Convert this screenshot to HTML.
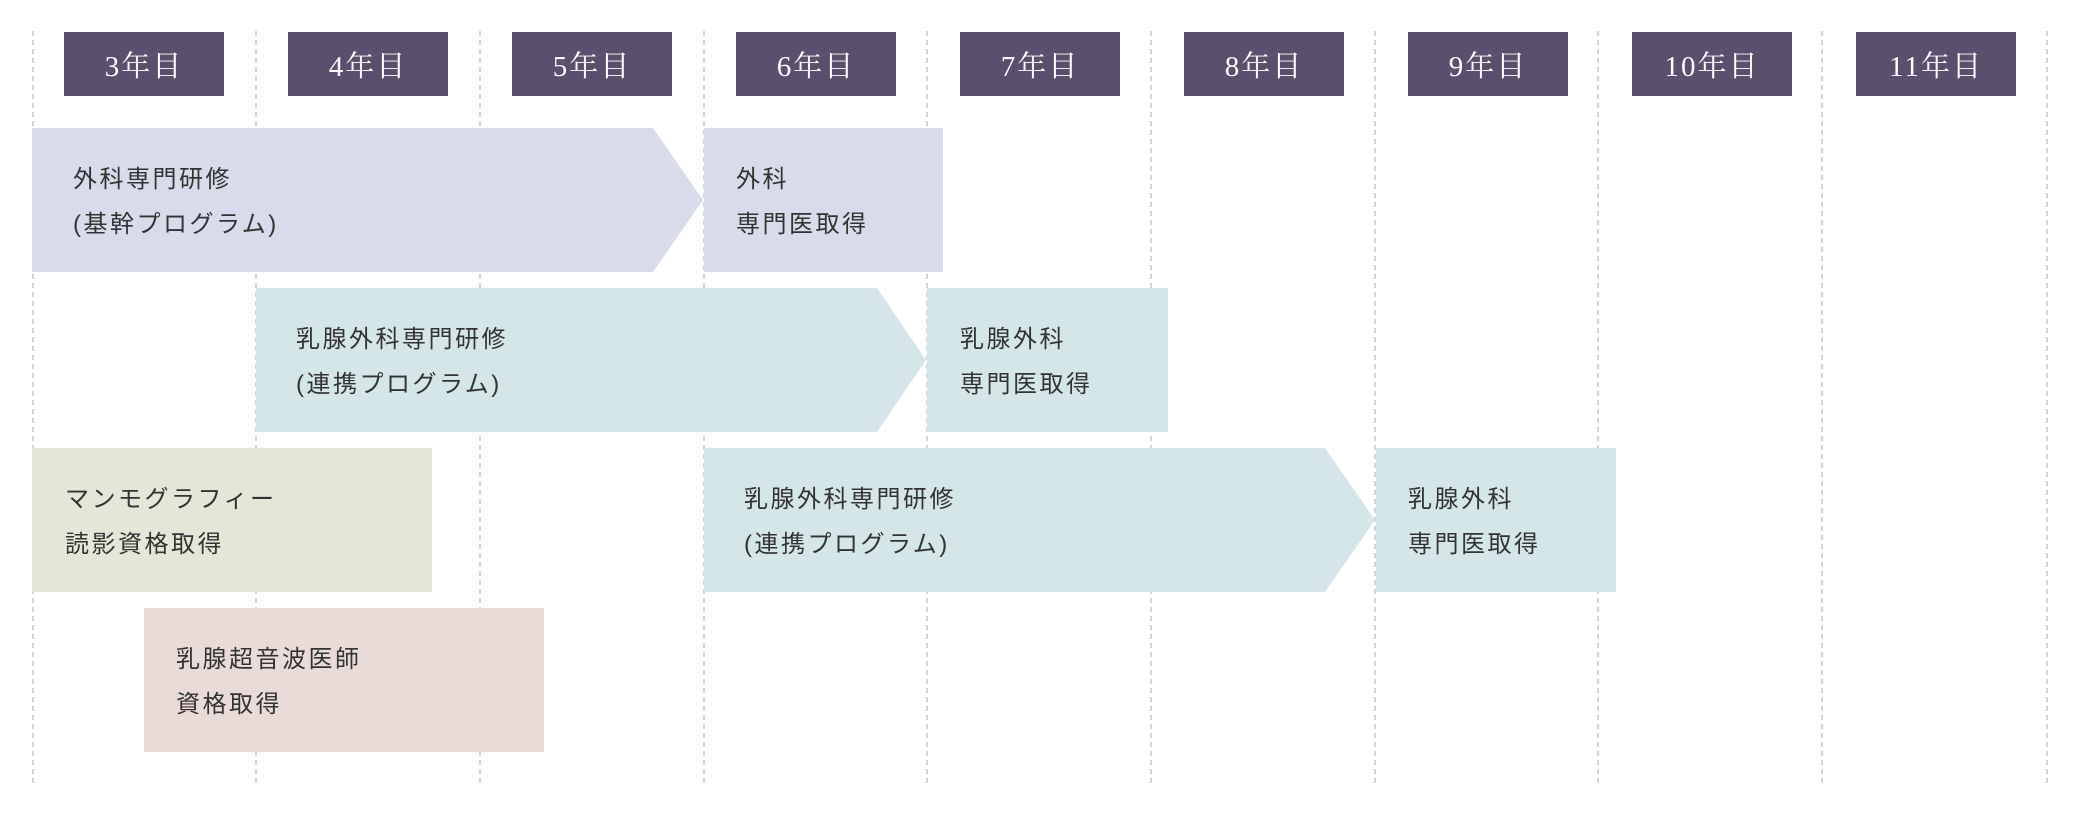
<!DOCTYPE html>
<html><head><meta charset="utf-8"><style>
body{margin:0;background:#fff;width:2080px;height:818px;overflow:hidden;position:relative;font-family:"Liberation Sans","Noto Sans CJK JP",sans-serif;}
.h{position:absolute;top:32px;width:160px;height:64px;background:#5a4f6d;color:#fff;font-family:"Liberation Serif","Noto Serif CJK SC",serif;font-size:29px;line-height:70px;text-align:center;letter-spacing:2px;}
.t{position:absolute;font-size:24px;line-height:45px;color:#333;letter-spacing:2.5px;}
</style></head><body>
<svg width="2080" height="818" style="position:absolute;left:0;top:0">
<g stroke="#d3d3e3" stroke-width="2" stroke-dasharray="5,4">
<line x1="33" y1="31" x2="33" y2="783"/><line x1="256" y1="31" x2="256" y2="783"/><line x1="480" y1="31" x2="480" y2="783"/><line x1="704" y1="31" x2="704" y2="783"/><line x1="927" y1="31" x2="927" y2="783"/><line x1="1151" y1="31" x2="1151" y2="783"/><line x1="1375" y1="31" x2="1375" y2="783"/><line x1="1598" y1="31" x2="1598" y2="783"/><line x1="1822" y1="31" x2="1822" y2="783"/><line x1="2047" y1="31" x2="2047" y2="783"/>
</g>
<polygon points="32,128 653,128 703,200 653,272 32,272" fill="#d8dbe9"/>
<rect x="704" y="128" width="239" height="144" fill="#d8dbe9"/>
<polygon points="256,288 877,288 926,360 877,432 256,432" fill="#d5e6e8"/>
<rect x="927" y="288" width="241" height="144" fill="#d5e6e8"/>
<rect x="32" y="448" width="400" height="144" fill="#e2e7d7"/>
<polygon points="704,448 1325,448 1375,520 1325,592 704,592" fill="#d5e6e8"/>
<rect x="1376" y="448" width="240" height="144" fill="#d5e6e8"/>
<rect x="144" y="608" width="400" height="144" fill="#e9dcd8"/>
</svg>
<div class="h" style="left:64px">3年目</div>
<div class="h" style="left:288px">4年目</div>
<div class="h" style="left:512px">5年目</div>
<div class="h" style="left:736px">6年目</div>
<div class="h" style="left:960px">7年目</div>
<div class="h" style="left:1184px">8年目</div>
<div class="h" style="left:1408px">9年目</div>
<div class="h" style="left:1632px">10年目</div>
<div class="h" style="left:1856px">11年目</div>
<div class="t" style="left:73px;top:157px">外科専門研修<br>(基幹プログラム)</div>
<div class="t" style="left:736px;top:157px">外科<br>専門医取得</div>
<div class="t" style="left:296px;top:317px">乳腺外科専門研修<br>(連携プログラム)</div>
<div class="t" style="left:960px;top:317px">乳腺外科<br>専門医取得</div>
<div class="t" style="left:65px;top:477px">マンモグラフィー<br>読影資格取得</div>
<div class="t" style="left:744px;top:477px">乳腺外科専門研修<br>(連携プログラム)</div>
<div class="t" style="left:1408px;top:477px">乳腺外科<br>専門医取得</div>
<div class="t" style="left:176px;top:637px">乳腺超音波医師<br>資格取得</div>
</body></html>
